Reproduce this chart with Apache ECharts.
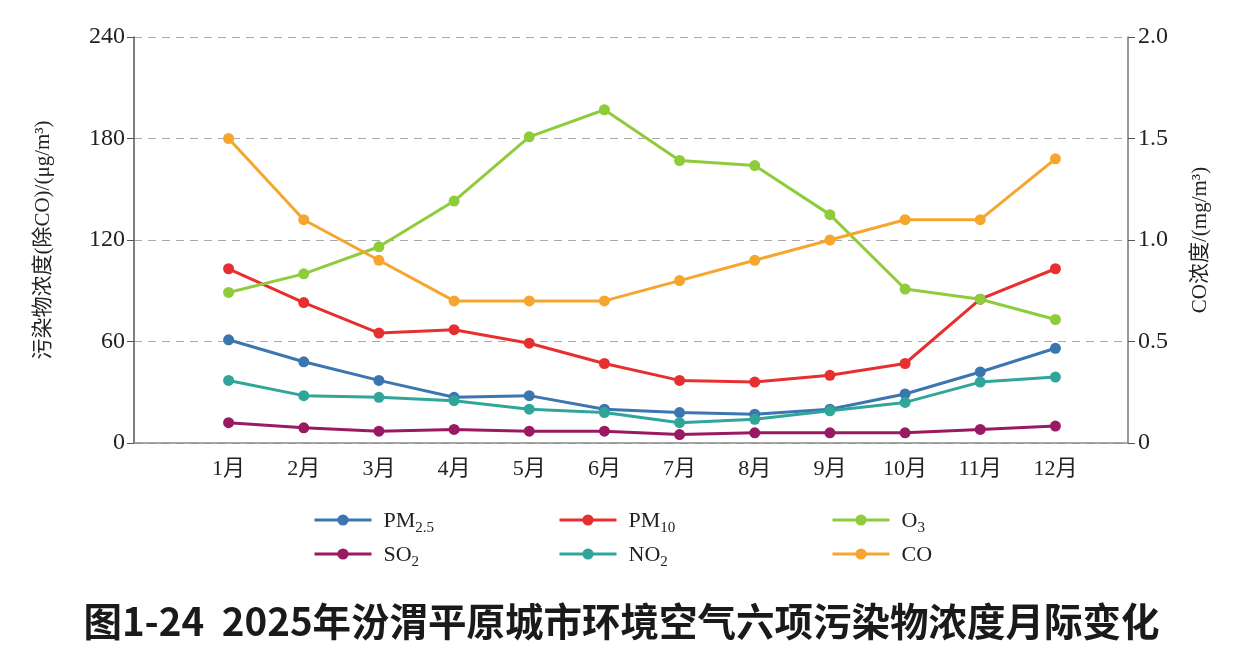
<!DOCTYPE html>
<html>
<head>
<meta charset="utf-8">
<script src="https://cdn.jsdelivr.net/npm/echarts@6/dist/echarts.min.js"></script>
<style>
  html, body { margin: 0; padding: 0; background: #fff; }
  #main { width: 1243px; height: 662px; }
</style>
</head>
<body>
<div id="main"></div>
<script>
// 月份
var months = ["1月", "2月", "3月", "4月", "5月", "6月", "7月", "8月", "9月", "10月", "11月", "12月"];
// 污染物浓度 μg/m3
var pm25 = [61, 48, 37, 27, 28, 20, 18, 17, 20, 29, 42, 56];
var pm10 = [103, 83, 65, 67, 59, 47, 37, 36, 40, 47, 85, 103];
var o3 = [89, 100, 116, 143, 181, 197, 167, 164, 135, 91, 85, 73];
var so2 = [12, 9, 7, 8, 7, 7, 5, 6, 6, 6, 8, 10];
var no2 = [37, 28, 27, 25, 20, 18, 12, 14, 19, 24, 36, 39];
// CO mg/m3
var co = [1.5, 1.1, 0.9, 0.7, 0.7, 0.7, 0.8, 0.9, 1.0, 1.1, 1.1, 1.4];
// 刻度
var leftTicks = [0, 60, 120, 180, 240];
var rightTicks = ["0", "0.5", "1.0", "1.5", "2.0"];

var serif = "'Liberation Serif', 'Noto Sans CJK SC', serif";
var colors = {
  pm25: "#3b76b0",
  pm10: "#e6302f",
  o3: "#8fcc3b",
  so2: "#991a63",
  no2: "#30a69b",
  co: "#f6a52f"
};

function lineSeries(name, data, color, yIdx) {
  return {
    name: name,
    type: "line",
    xAxisIndex: 1,
    yAxisIndex: yIdx,
    data: data,
    symbol: "circle",
    symbolSize: 11,
    itemStyle: { color: color },
    lineStyle: { color: color, width: 3 },
    emphasis: { disabled: true }
  };
}

var richLegend = {
  n: { fontFamily: serif, fontSize: 22, color: "#222", lineHeight: 24, verticalAlign: "bottom" },
  s: { fontFamily: serif, fontSize: 15, color: "#222", lineHeight: 24, verticalAlign: "bottom", padding: [0, 0, -4, 0] }
};
var legendNames = {
  "PM2.5": "{n|PM}{s|2.5}",
  "PM10": "{n|PM}{s|10}",
  "O3": "{n|O}{s|3}",
  "SO2": "{n|SO}{s|2}",
  "NO2": "{n|NO}{s|2}",
  "CO": "{n|CO}"
};
function makeLegend(left, names) {
  return {
    orient: "vertical",
    left: left,
    top: 505,
    itemWidth: 57,
    itemHeight: 14,
    itemGap: 8,
    data: names,
    lineStyle: { width: 3 },
    formatter: function (name) { return legendNames[name]; },
    textStyle: { rich: richLegend, padding: [0, 0, 0, 7] }
  };
}

var myChart = echarts.init(document.getElementById("main"));
myChart.setOption({
  animation: false,
  backgroundColor: "#fff",
  title: {
    text: "图1-24  2025年汾渭平原城市环境空气六项污染物浓度月际变化",
    left: "center",
    top: 597,
    textStyle: {
      fontFamily: "'Noto Sans CJK SC', sans-serif",
      fontWeight: "bold",
      fontSize: 38.5,
      color: "#1a1a1a"
    }
  },
  legend: [
    makeLegend(308, ["PM2.5", "SO2"]),
    makeLegend(553, ["PM10", "NO2"]),
    makeLegend(826, ["O3", "CO"])
  ],
  grid: [
    // 外框
    { left: 134, right: 115, top: 37, bottom: 219 },
    // 数据区
    { left: 191, right: 150, top: 37, bottom: 219 }
  ],
  xAxis: [
    {
      gridIndex: 0,
      type: "value",
      min: 0,
      max: 1,
      axisLine: { show: true, lineStyle: { color: "#8a8a8a", width: 1.5 } },
      axisTick: { show: false },
      axisLabel: { show: false },
      splitLine: { show: false }
    },
    {
      gridIndex: 1,
      type: "category",
      data: months,
      boundaryGap: true,
      axisLine: { show: false },
      axisTick: { show: false },
      axisLabel: {
        margin: 15,
        fontFamily: serif,
        fontSize: 22,
        color: "#222"
      }
    }
  ],
  yAxis: [
    {
      gridIndex: 0,
      type: "value",
      position: "left",
      min: 0,
      max: 240,
      interval: 60,
      name: "污染物浓度(除CO)/(μg/m³)",
      nameLocation: "middle",
      nameRotate: 90,
      nameGap: 80,
      nameTextStyle: { fontFamily: serif, fontSize: 21, color: "#222" },
      axisLine: { show: true, lineStyle: { color: "#555", width: 1.5 } },
      axisTick: { show: true, length: 7, lineStyle: { color: "#555" } },
      axisLabel: {
        margin: 9,
        fontFamily: serif,
        fontSize: 24,
        color: "#222",
        formatter: function (v) { return leftTicks.indexOf(v) >= 0 ? String(v) : ""; }
      },
      splitLine: { show: true, lineStyle: { color: "#aaa", type: [8, 6], width: 1 } }
    },
    {
      gridIndex: 0,
      type: "value",
      position: "right",
      min: 0,
      max: 2,
      interval: 0.5,
      name: "CO浓度/(mg/m³)",
      nameLocation: "middle",
      nameRotate: 90,
      nameGap: 62,
      nameTextStyle: { fontFamily: serif, fontSize: 21, color: "#222" },
      axisLine: { show: true, lineStyle: { color: "#777", width: 1.5 } },
      axisTick: { show: true, length: 7, lineStyle: { color: "#555" } },
      axisLabel: {
        margin: 10,
        fontFamily: serif,
        fontSize: 24,
        color: "#222",
        formatter: function (v) { return rightTicks[Math.round(v / 0.5)]; }
      },
      splitLine: { show: false }
    },
    { gridIndex: 1, type: "value", min: 0, max: 240, show: false },
    { gridIndex: 1, type: "value", min: 0, max: 2, show: false }
  ],
  series: [
    lineSeries("PM2.5", pm25, colors.pm25, 2),
    lineSeries("PM10", pm10, colors.pm10, 2),
    lineSeries("O3", o3, colors.o3, 2),
    lineSeries("SO2", so2, colors.so2, 2),
    lineSeries("NO2", no2, colors.no2, 2),
    lineSeries("CO", co, colors.co, 3)
  ]
});
</script>
</body>
</html>
